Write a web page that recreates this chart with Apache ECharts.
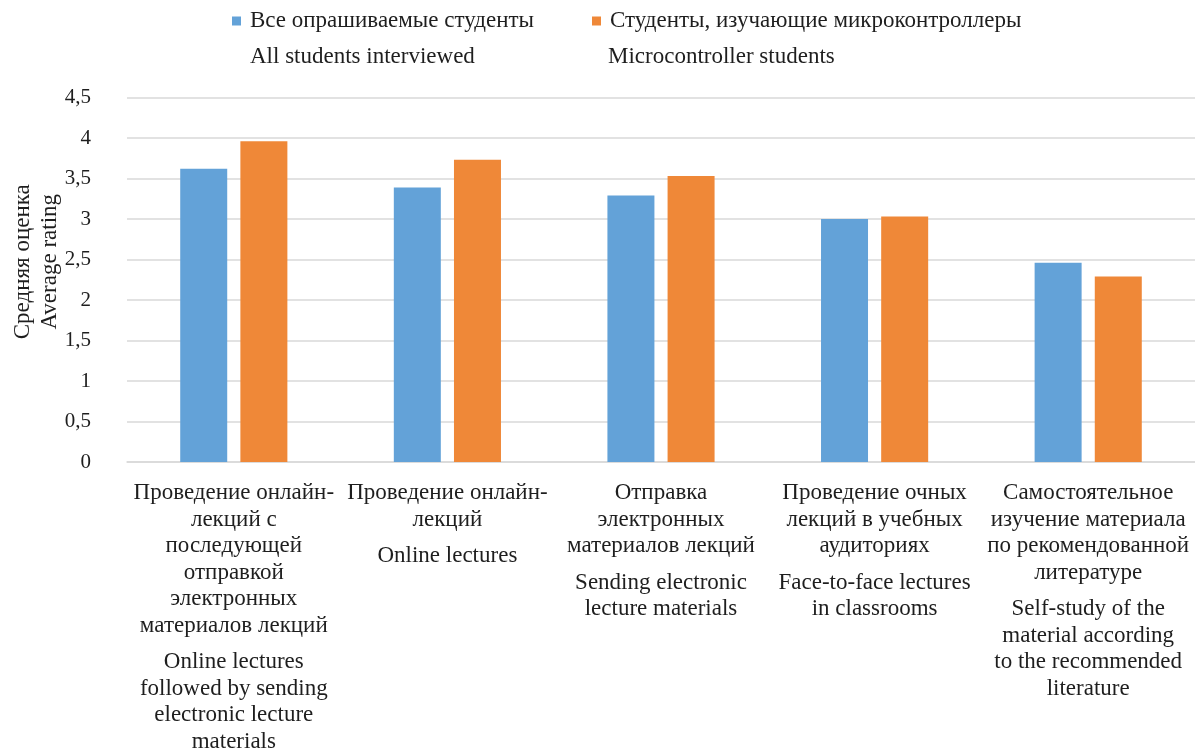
<!DOCTYPE html>
<html>
<head>
<meta charset="utf-8">
<script src="https://cdn.jsdelivr.net/npm/echarts@6/dist/echarts.min.js"></script>
<style>
  html, body { margin: 0; padding: 0; background: #fff; }
  #chart { width: 1195px; height: 749px; }
</style>
</head>
<body>
<div id="chart"></div>
<script>
// Series names (Russian / English)
const seriesRu = ['Все опрашиваемые студенты', 'Студенты, изучающие микроконтроллеры'];
const seriesEn = ['All students interviewed', 'Microcontroller students'];

// Teaching formats (Russian / English), line breaks as printed
const categoriesRu = [
  'Проведение онлайн-\nлекций с\nпоследующей\nотправкой\nэлектронных\nматериалов лекций',
  'Проведение онлайн-\nлекций',
  'Отправка\nэлектронных\nматериалов лекций',
  'Проведение очных\nлекций в учебных\nаудиториях',
  'Самостоятельное\nизучение материала\nпо рекомендованной\nлитературе'
];
const categoriesEn = [
  'Online lectures\nfollowed by sending\nelectronic lecture\nmaterials',
  'Online lectures',
  'Sending electronic\nlecture materials',
  'Face-to-face lectures\nin classrooms',
  'Self-study of the\nmaterial according\nto the recommended\nliterature'
];

// Average rating per format
const allStudents = [3.62, 3.39, 3.29, 3.00, 2.46];
const mcuStudents = [3.96, 3.73, 3.53, 3.03, 2.29];

// Value axis ticks
const yMin = 0;
const yMax = 4.5;
const yStep = 0.5;

const colors = ['#63a2d8', '#ef8838'];
const FONT = "'Liberation Serif', 'Times New Roman', serif";
const TEXT = '#1e1e1e';

const chart = echarts.init(document.getElementById('chart'), null, { renderer: 'canvas' });

const labelRich = {
  ru: { fontFamily: FONT, fontSize: 23, lineHeight: 26.5, color: TEXT },
  en: { fontFamily: FONT, fontSize: 23, lineHeight: 26.5, color: TEXT },
  gap: { fontFamily: FONT, fontSize: 4, lineHeight: 10, color: TEXT }
};

// Shared legend layout; the second row repeats the items with English names only
const legendBase = {
  left: 232,
  padding: 0,
  itemWidth: 9,
  itemHeight: 9,
  itemGap: 58,
  icon: 'rect',
  data: seriesRu,
  selectedMode: false
};
const legendText = {
  fontFamily: FONT,
  fontSize: 23,
  lineHeight: 26.5,
  color: TEXT,
  width: 282,
  padding: [0, 0, 0, 4]
};

chart.setOption({
  animation: false,
  backgroundColor: '#fff',
  color: colors,
  textStyle: { fontFamily: FONT },
  legend: [
    Object.assign({}, legendBase, {
      top: 7.75,
      textStyle: legendText
    }),
    Object.assign({}, legendBase, {
      top: 43.75,
      itemStyle: { opacity: 0 },
      formatter: function (name) { return seriesEn[seriesRu.indexOf(name)]; },
      textStyle: legendText
    })
  ],
  grid: {
    left: 127,
    right: 0,
    top: 97.5,
    bottom: 287,
    containLabel: false,
    outerBoundsMode: 'none'
  },
  xAxis: {
    type: 'category',
    data: categoriesRu,
    axisLine: { show: true, lineStyle: { color: '#d9d9d9', width: 1.5 } },
    axisTick: { show: false },
    axisLabel: {
      interval: 0,
      margin: 18,
      align: 'center',
      formatter: function (value, index) {
        return '{ru|' + value + '}\n{gap| }\n{en|' + categoriesEn[index] + '}';
      },
      rich: labelRich
    }
  },
  yAxis: {
    type: 'value',
    min: yMin,
    max: yMax,
    interval: yStep,
    name: 'Средняя оценка\nAverage rating',
    nameLocation: 'middle',
    nameRotate: 90,
    nameGap: 64,
    nameMoveOverlap: false,
    nameTextStyle: {
      fontFamily: FONT,
      fontSize: 23,
      lineHeight: 26.5,
      color: TEXT,
      padding: [0, 0, 0, 36]
    },
    axisLine: { show: false },
    axisTick: { show: false },
    splitLine: { show: true, lineStyle: { color: '#d9d9d9', width: 1.5 } },
    axisLabel: {
      margin: 36,
      fontFamily: FONT,
      fontSize: 21,
      color: TEXT,
      formatter: function (v) { return String(v).replace('.', ','); }
    }
  },
  series: [
    {
      name: seriesRu[0],
      type: 'bar',
      data: allStudents,
      barWidth: 47,
      barGap: '28%',
      itemStyle: { color: colors[0] }
    },
    {
      name: seriesRu[1],
      type: 'bar',
      data: mcuStudents,
      barWidth: 47,
      barGap: '28%',
      itemStyle: { color: colors[1] }
    }
  ]
});
</script>
</body>
</html>
